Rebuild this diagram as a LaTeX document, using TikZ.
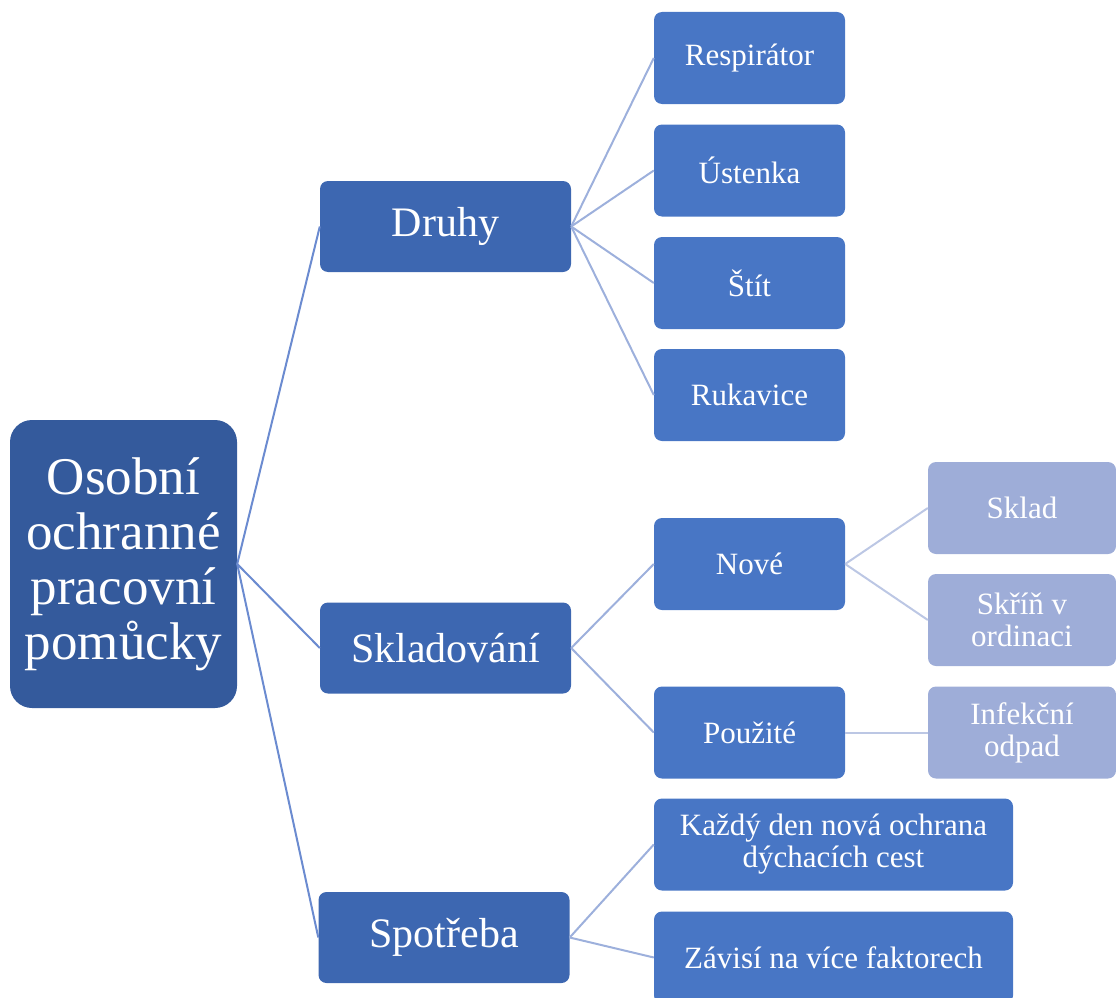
\documentclass[tikz,border=0pt]{standalone}
\usepackage{fontspec}
\setmainfont{Liberation Serif}
\definecolor{rootblue}{HTML}{345A9C}
\definecolor{onefill}{HTML}{3D67B1}
\definecolor{twofill}{HTML}{4876C5}
\definecolor{threefill}{HTML}{9EADD8}
\definecolor{oneline}{HTML}{6B8BD0}
\definecolor{twoline}{HTML}{9DB0DC}
\definecolor{threeline}{HTML}{BCC7E4}

\begin{document}
\begin{tikzpicture}[x=1pt,y=-1pt,
    box/.style={rectangle, rounded corners=8pt, inner sep=0pt, align=center, text=white},
    rootbox/.style={box, fill=rootblue, rounded corners=22pt, minimum width=227pt, minimum height=288pt, font=\fontsize{53}{55}\selectfont},
    lvlone/.style={box, fill=onefill, minimum width=251pt, minimum height=91pt, font=\fontsize{42}{44}\selectfont},
    lvltwo/.style={box, fill=twofill, minimum width=191pt, minimum height=92pt, font=\fontsize{31}{32}\selectfont},
    lvlwide/.style={lvltwo, minimum width=359pt},
    lvlthree/.style={box, fill=threefill, minimum width=188pt, minimum height=92pt, font=\fontsize{31}{32}\selectfont},
    linkone/.style={oneline, line width=2pt},
    linktwo/.style={twoline, line width=2pt},
    linkthree/.style={threeline, line width=2pt}]
            \clip (0,0) rectangle (1116,998);

            % Root
            \node[rootbox] (root) at (123.5,564) {Osobní\\ochranné\\pracovní\\pomůcky};

            % First level
            \node[lvlone] (druhy) at (445.5,226.5) {Druhy};
            \node[lvlone] (skladovani) at (445.5,648) {Skladování};
            \node[lvlone] (spotreba) at (444,937.5) {Spotřeba};

            % Second level
            \node[lvltwo] (respirator) at (749.5,58) {Respirátor};
            \node[lvltwo] (ustenka) at (749.5,170.5) {Ústenka};
            \node[lvltwo] (stit) at (749.5,283) {Štít};
            \node[lvltwo] (rukavice) at (749.5,395) {Rukavice};
            \node[lvltwo] (nove) at (749.5,564) {Nové};
            \node[lvltwo] (pouzite) at (749.5,732.5) {Použité};
            \node[lvlwide] (kazdy) at (833.5,844.5) {Každý den nová ochrana\\dýchacích cest};
            \node[lvlwide] (zavisi) at (833.5,957.5) {Závisí na více faktorech};

            % Third level
            \node[lvlthree] (sklad) at (1022,508) {Sklad};
            \node[lvlthree] (skrin) at (1022,620) {Skříň v\\ordinaci};
            \node[lvlthree] (infekcni) at (1022,732.5) {Infekční\\odpad};

            % Links
            \draw[linkone] (root.east) -- (druhy.west);
            \draw[linkone] (root.east) -- (skladovani.west);
            \draw[linkone] (root.east) -- (spotreba.west);
            \draw[linktwo] (druhy.east) -- (respirator.west);
            \draw[linktwo] (druhy.east) -- (ustenka.west);
            \draw[linktwo] (druhy.east) -- (stit.west);
            \draw[linktwo] (druhy.east) -- (rukavice.west);
            \draw[linktwo] (skladovani.east) -- (nove.west);
            \draw[linktwo] (skladovani.east) -- (pouzite.west);
            \draw[linktwo] (spotreba.east) -- (kazdy.west);
            \draw[linktwo] (spotreba.east) -- (zavisi.west);
            \draw[linkthree] (nove.east) -- (sklad.west);
            \draw[linkthree] (nove.east) -- (skrin.west);
            \draw[linkthree] (pouzite.east) -- (infekcni.west);
\end{tikzpicture}
\end{document}
